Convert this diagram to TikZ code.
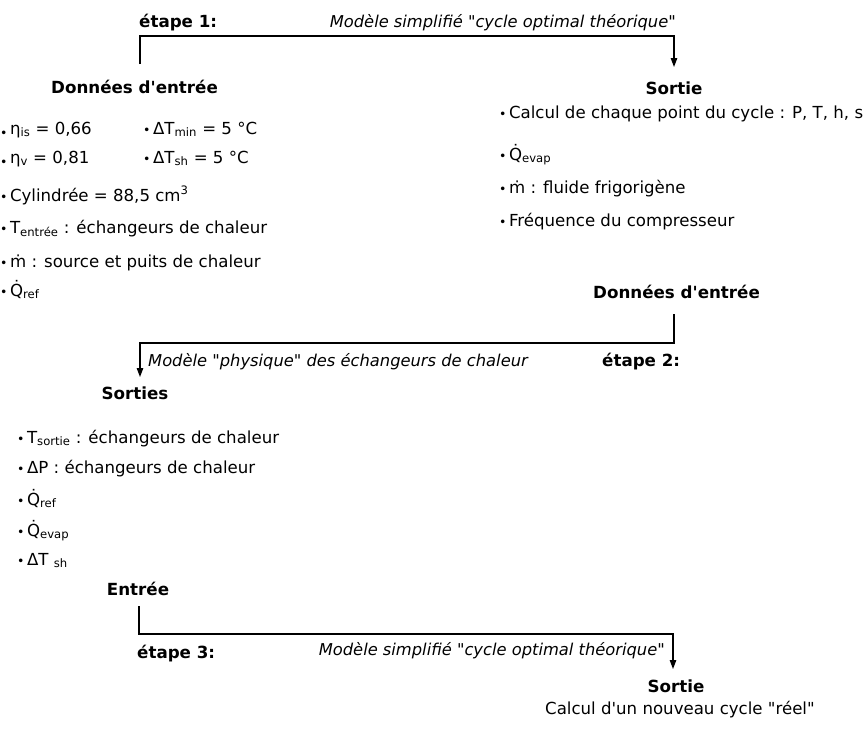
\documentclass[tikz,border=0pt]{standalone}
\usepackage{fontspec}
\setmainfont{DejaVu Sans}[Ligatures=TeXOff]
\usetikzlibrary{arrows.meta,positioning,calc}
\newcommand{\corps}{\fontsize{16.6}{19.5}\selectfont}
\newcommand{\puce}{{\fontsize{12.5}{12}\selectfont\textbullet}\hspace{2.5pt}}
\newcommand{\pucebas}{\raisebox{-3.5pt}{\puce}}

\begin{document}
\begin{tikzpicture}[x=1pt,y=-1pt,
    every node/.style={font=\corps,inner sep=0pt,anchor=base west},
    titre/.style={font=\fontsize{16.7}{19.5}\selectfont\bfseries},
    modele/.style={font=\fontsize{16.3}{19.5}\selectfont\itshape},
    fleche/.style={-{Triangle[length=9pt,width=6.5pt]},line width=1.2pt}]
    \useasboundingbox (0,0) rectangle (863,729);
    % etape 1
    \node[titre] (etape1) at (139,27) {étape 1:};
    \node[modele,anchor=base east] (modele1) at (676,27) {Modèle simplifié "cycle optimal théorique"};
    \node[titre] (entree1) at (51,93) {Données d'entrée};
    \node[titre,anchor=base] (sortie1) at (674,94) {Sortie};
    \node (etais) at (0,134) {\pucebas η\textsubscript{is} = 0,66};
    \node (dtmin) at (143,134) {\puce ΔT\textsubscript{min} = 5 °C};
    \node (etav) at (0,163) {\pucebas η\textsubscript{v} = 0,81};
    \node (dtsh1) at (143,163) {\puce ΔT\textsubscript{sh} = 5 °C};
    \node (cyl) at (0,201) {\puce Cylindrée = 88,5 cm\textsuperscript{3}};
    \node (tent) at (0,233) {\puce T\textsubscript{entrée} : échangeurs de chaleur};
    \node (msrc) at (0,267) {\puce \.m : source et puits de chaleur};
    \node (qref1) at (0,296) {\puce \.Q\textsubscript{ref}};
    \node (calc1) at (499,118) {\puce Calcul de chaque point du cycle : P, T, h, s};
    \node (qevap1) at (499,160) {\puce \.Q\textsubscript{evap}};
    \node (mfl) at (499,193) {\puce \.m : fluide frigorigène};
    \node (freq) at (499,226) {\puce Fréquence du compresseur};
    \coordinate (dep1) at (140,64);
    \coordinate (arr1) at (674,67);
    \draw[fleche] (dep1) -- ++(0,-28) -| (arr1);
    % etape 2
    \node[titre] (entree2) at (593,298) {Données d'entrée};
    \node[titre] (etape2) at (602,366) {étape 2:};
    \node[modele] (modele2) at (148,366) {Modèle "physique" des échangeurs de chaleur};
    \node[titre,anchor=base] (sorties2) at (135,399) {Sorties};
    \node (tsort) at (17,443) {\puce T\textsubscript{sortie} : échangeurs de chaleur};
    \node (dp) at (17,473) {\puce ΔP : échangeurs de chaleur};
    \node (qref2) at (17,505) {\puce \.Q\textsubscript{ref}};
    \node (qevap2) at (17,536) {\puce \.Q\textsubscript{evap}};
    \node (dtsh2) at (17,565) {\puce ΔT \textsubscript{sh}};
    \coordinate (dep2) at (674,314);
    \coordinate (arr2) at (140,377);
    \draw[fleche] (dep2) -- ++(0,29) -| (arr2);
    % etape 3
    \node[titre,anchor=base] (entree3) at (138,595) {Entrée};
    \node[titre] (etape3) at (137,658) {étape 3:};
    \node[modele,anchor=base east] (modele3) at (665,655) {Modèle simplifié "cycle optimal théorique"};
    \node[titre,anchor=base] (sortie3) at (676,692) {Sortie};
    \node (calc3) at (545,714) {Calcul d'un nouveau cycle "réel"};
    \coordinate (dep3) at (139,606);
    \coordinate (arr3) at (673,669);
    \draw[fleche] (dep3) -- ++(0,28) -| (arr3);
\end{tikzpicture}
\end{document}
